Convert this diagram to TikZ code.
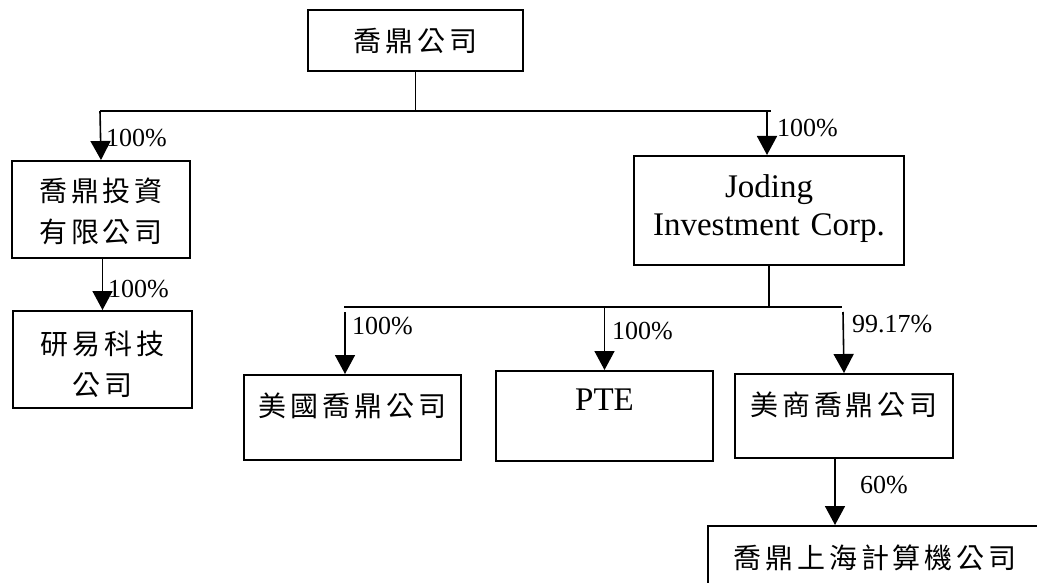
\documentclass[tikz,border=0pt]{standalone}
\usepackage{fontspec}
\setmainfont{Liberation Serif}
\newfontfamily\cjk[LetterSpace=14]{Noto Sans CJK TC}
\usetikzlibrary{arrows.meta}
\begin{document}
\begin{tikzpicture}[x=1pt,y=-1pt,
  box/.style={draw, line width=2pt, inner sep=0pt, align=center, anchor=north west},
  zh/.style={font={\cjk\fontsize{28}{41}\selectfont}},
  en/.style={font={\fontsize{33}{38}\selectfont}},
  pct/.style={font={\fontsize{26}{30}\selectfont}, anchor=base west, inner sep=0pt},
  link/.style={line width=1.6pt},
  arr/.style={link, -{Triangle[width=20pt,length=19pt]}}]
\useasboundingbox (0,0) rectangle (1037,583);
\clip (0,0) rectangle (1037,583);
% boxes
\node[box, zh, text width=215pt, text height=42pt, text depth=19pt] (top) at (307,9) {喬鼎公司};
\node[box, zh, text width=178pt, text height=41pt, text depth=56pt] (inv) at (11,160) {喬鼎投資\\有限公司};
\node[box, zh, text width=179pt, text height=43pt, text depth=54pt] (yiyi) at (12,310) {研易科技\\公司};
\node[box, en, text width=270pt, text height=41pt, text depth=68pt] (jod) at (633,155) {Joding\\Investment Corp.};
\node[box, zh, text width=217pt, text height=41pt, text depth=44pt] (usa) at (243,374) {美國喬鼎公司};
\node[box, en, text width=217pt, text height=39pt, text depth=51pt] (pte) at (495,370) {PTE};
\node[box, zh, text width=218pt, text height=41pt, text depth=43pt] (usc) at (734,373) {美商喬鼎公司};
\node[box, zh, text width=334pt, text height=42pt, text depth=60pt] (sh) at (707,525) {喬鼎上海計算機公司};
% junction points
\coordinate (bL) at (100,111);
\coordinate (bR) at (771,111);
\coordinate (bJ) at (767,111);
\coordinate (b2L) at (344,307);
\coordinate (b2R) at (842,307);
\coordinate (a1) at (345,312);
\coordinate (a3) at (843,312);
\coordinate (a4) at (835,459);
% connectors
\draw[link] (top.south) -- (top.south |- bL);
\draw[link] (bL) -- (bR);
\draw[arr] (bL) -- (inv.north);
\draw[arr] (bJ) -- (bJ |- jod.north);
\draw[arr] (yiyi.north |- inv.south) -- (yiyi.north);
\draw[link] (jod.south) -- (jod.south |- b2L);
\draw[link] (b2L) -- (b2R);
\draw[arr] (a1) -- (a1 |- usa.north);
\draw[arr] (pte.north |- b2L) -- (pte.north);
\draw[arr] (a3) -- (usc.north);
\draw[arr] (a4) -- (a4 |- sh.north);
% labels
\node[pct] (p1) at (106,147) {100\%};
\node[pct] (p2) at (777,137) {100\%};
\node[pct] (p3) at (108,297) {100\%};
\node[pct] (p4) at (352,334) {100\%};
\node[pct] (p5) at (612,339) {100\%};
\node[pct] (p6) at (852,332) {99.17\%};
\node[pct] (p7) at (860,493) {60\%};
\end{tikzpicture}
\end{document}
